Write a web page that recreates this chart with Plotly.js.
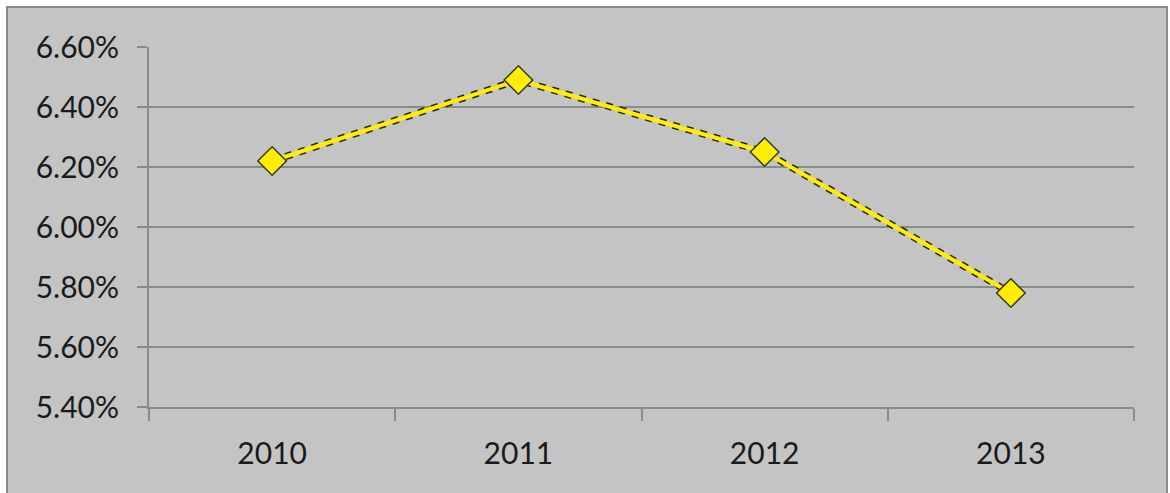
<!DOCTYPE html>
<html>
<head>
<meta charset="utf-8">
<script src="https://cdn.plot.ly/plotly-3.0.1.min.js"></script>
<style>
  html, body { margin: 0; padding: 0; background: #ffffff; width: 1170px; height: 493px; overflow: hidden; }
  #frame { position: absolute; left: 6px; top: 6px; width: 1158px; height: 487px; border-left: 2px solid #8a8a8a; border-top: 2px solid #8a8a8a; border-right: 2px solid #8a8a8a; background: #c4c4c4; }
  #chart { width: 1158px; height: 487px; }
</style>
</head>
<body>
<div id="frame"><div id="chart"></div></div>
<script>
const years = ['2010', '2011', '2012', '2013'];
const rates = [0.0622, 0.0649, 0.0625, 0.0578];
const yTicks = [0.054, 0.056, 0.058, 0.060, 0.062, 0.064, 0.066];
const yTickText = ['5.40%', '5.60%', '5.80%', '6.00%', '6.20%', '6.40%', '6.60%'];

const fontFam = 'Lato, "Open Sans", sans-serif';

const traces = [
  {
    x: years, y: rates, type: 'scatter', mode: 'lines',
    line: { color: '#2a2a10', width: 7, dash: 'dot' },
    hoverinfo: 'skip', showlegend: false
  },
  {
    x: years, y: rates, type: 'scatter', mode: 'lines+markers',
    line: { color: '#ffee00', width: 4 },
    marker: { symbol: 'diamond', size: 22, color: '#ffee00', line: { color: '#3a3a20', width: 1.5 } },
    showlegend: false
  }
];

const layout = {
  width: 1158, height: 487,
  margin: { l: 141, r: 32, t: 39, b: 88 },
  paper_bgcolor: 'rgba(0,0,0,0)',
  plot_bgcolor: 'rgba(0,0,0,0)',
  font: { family: fontFam, size: 30, color: '#1a1a1a' },
  showlegend: false,
  xaxis: {
    type: 'category',
    tickson: 'boundaries',
    ticks: 'outside', ticklen: 12, tickwidth: 2, tickcolor: '#8a8a8a',
    showline: true, linecolor: '#8a8a8a', linewidth: 2,
    showgrid: false, zeroline: false,
    tickfont: { family: fontFam, size: 30, color: '#1a1a1a' },
    ticklabelstandoff: 19,
    range: [-0.5, 3.5], fixedrange: true
  },
  yaxis: {
    range: [0.054, 0.066],
    tickvals: yTicks, ticktext: yTickText,
    ticks: 'outside', ticklen: 10, tickwidth: 2, tickcolor: '#8a8a8a',
    showline: true, linecolor: '#8a8a8a', linewidth: 2,
    showgrid: true, gridcolor: '#8a8a8a', gridwidth: 2,
    zeroline: false,
    tickfont: { family: fontFam, size: 30, color: '#1a1a1a' },
    ticklabelstandoff: 12,
    fixedrange: true
  }
};

Plotly.newPlot('chart', traces, layout, { displayModeBar: false, staticPlot: true });
</script>
</body>
</html>
